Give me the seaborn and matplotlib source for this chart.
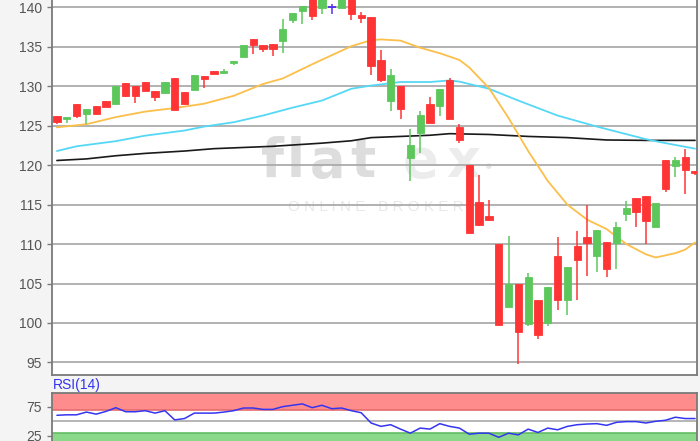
import numpy as np
import matplotlib
matplotlib.use("Agg")
import matplotlib.pyplot as plt
import seaborn as sns

# daily candles
opens = [126.3, 125.9, 127.8, 126.5, 127.45, 128.1, 127.8, 130.4, 130.0, 130.6,
         129.4, 129.2, 131.05, 129.3, 129.5, 131.35, 132.0, 131.7, 133.0, 133.7,
         136.0, 135.3, 135.4, 135.75, 138.4, 139.6, 141.6, 139.9, 140.0, 139.9,
         141.6, 139.0, 138.8, 133.4, 128.2, 130.0, 120.95, 124.1, 127.7, 127.45,
         130.85, 124.8, 120.0, 115.3, 113.6, 109.95, 102.0, 105.0, 99.9, 102.9,
         100.0, 108.5, 102.9, 109.7, 110.9, 108.5, 110.3, 110.2, 113.85, 115.9,
         116.1, 112.2, 120.6, 119.9, 121.1, 119.25]
closes = [125.5, 126.1, 126.2, 127.1, 126.5, 127.4, 130.0, 128.75, 128.75, 129.4,
          128.65, 130.55, 127.05, 127.7, 131.5, 130.9, 131.6, 131.9, 133.2, 135.2,
          135.2, 134.7, 134.75, 137.3, 139.3, 140.2, 138.9, 141.6, 140.0, 141.6,
          139.2, 138.7, 132.55, 130.85, 131.4, 127.15, 122.6, 126.4, 125.4, 129.7,
          125.9, 123.2, 111.4, 112.45, 113.0, 99.8, 105.0, 98.8, 105.85, 98.45,
          104.5, 102.9, 107.05, 108.0, 110.2, 111.8, 106.9, 112.15, 114.6, 114.05,
          112.9, 115.25, 117.0, 120.6, 119.4, 119.0]
highs = [126.3, 126.1, 127.8, 127.1, 127.45, 128.1, 130.0, 130.4, 130.0, 130.6,
         129.4, 130.55, 131.05, 129.3, 131.5, 131.35, 132.0, 132.2, 133.2, 135.2,
         136.0, 135.3, 135.4, 138.6, 139.3, 140.2, 141.6, 141.6, 140.4, 141.6,
         141.6, 139.45, 138.8, 134.65, 132.25, 130.0, 124.6, 126.85, 128.7, 129.7,
         131.0, 125.25, 120.0, 118.7, 115.6, 109.95, 111.0, 105.0, 106.3, 102.9,
         104.5, 110.9, 107.05, 111.6, 115.0, 111.8, 110.3, 112.75, 115.5, 115.9,
         116.1, 115.25, 120.6, 121.0, 122.1, 119.25]
lows = [125.2, 125.3, 126.0, 125.25, 126.5, 127.4, 127.7, 128.6, 127.9, 129.4,
        128.1, 129.2, 127.05, 127.7, 129.5, 129.8, 131.6, 131.7, 132.7, 133.7,
        134.1, 134.3, 133.9, 134.2, 138.05, 137.9, 138.4, 139.15, 139.2, 139.9,
        138.4, 138.05, 131.4, 130.55, 126.85, 125.9, 118.05, 121.5, 125.4, 126.3,
        125.9, 122.8, 111.4, 112.3, 112.9, 99.8, 102.0, 94.8, 99.6, 98.0,
        99.6, 101.7, 101.0, 102.9, 105.9, 106.4, 105.8, 106.9, 112.9, 112.15,
        110.0, 112.2, 116.6, 118.5, 116.3, 118.75]

# moving averages (candle index, value)
ma_fast_x = [0, 3, 6, 9, 12, 15, 18, 21, 23, 26, 30, 32, 33, 35, 37, 39, 41, 42,
             44, 46, 48, 50, 52, 54, 56, 58, 60, 61, 63, 64, 65]
ma_fast = [124.8, 125.2, 126.1, 126.8, 127.25, 127.8, 128.8, 130.3, 131.0, 132.8,
           135.1, 135.85, 135.95, 135.8, 134.9, 134.2, 133.35, 132.4, 129.8, 126.0,
           121.8, 118.0, 115.0, 113.1, 111.9, 110.0, 108.7, 108.3, 108.85, 109.3, 110.2]
ma_mid_x = [0, 2, 6, 9, 13, 15, 18, 21, 24, 27, 30, 32, 35, 38, 40, 41, 44, 47,
            51, 55, 60, 62, 65]
ma_mid = [121.8, 122.4, 123.05, 123.75, 124.4, 124.9, 125.45, 126.3, 127.3, 128.2,
          129.7, 130.1, 130.55, 130.55, 130.75, 130.6, 129.7, 128.2, 126.3, 124.9,
          123.3, 122.8, 122.1]
ma_slow_x = [0, 3, 6, 9, 13, 16, 20, 22, 27, 30, 32, 35, 38, 40, 44, 48, 52, 56, 60, 65]
ma_slow = [120.6, 120.8, 121.2, 121.5, 121.8, 122.1, 122.3, 122.4, 122.8, 123.1,
           123.5, 123.65, 123.8, 124.0, 123.9, 123.65, 123.5, 123.2, 123.15, 123.15]

rsi = [60.5, 61.3, 61.3, 66.1, 62.5, 67.3, 73.8, 66.7, 66.7, 68.5,
       64.3, 68.5, 52.4, 54.8, 64.3, 64.3, 64.3, 66.1, 68.5, 73.2,
       73.2, 70.8, 70.8, 75.6, 78.0, 80.4, 73.8, 78.0, 72.0, 73.2,
       68.5, 64.9, 47.0, 41.1, 44.0, 36.3, 29.2, 38.1, 36.3, 45.8,
       41.1, 38.1, 27.4, 29.2, 29.2, 22.0, 29.2, 26.2, 36.3, 30.4,
       38.1, 35.1, 41.1, 44.0, 45.2, 45.8, 42.9, 48.2, 49.4, 49.4,
       47.0, 50.0, 51.8, 57.1, 54.8, 54.8]

price_ticks = [95, 100, 105, 110, 115, 120, 125, 130, 135, 140]
rsi_ticks = [25, 75]

sns.set_style("white")
plt.rcParams['font.family'] = ['Liberation Sans', 'DejaVu Sans']

UP, DOWN, FLAT = '#5cc85c', '#ff3535', '#5533ee'
SPINE = '#7a7a7a'

fig = plt.figure(figsize=(7, 4.41), dpi=100, facecolor='#f4f4f4')
ax = fig.add_axes([52 / 700, 1 - 375 / 441, 645 / 700, 375 / 441])
ax_rsi = fig.add_axes([52 / 700, 0, 645 / 700, 48.3 / 441])

# --- price panel ---
x = np.arange(len(opens))
o = np.array(opens)
c = np.array(closes)
colors = [UP if cc > oo else (DOWN if cc < oo else FLAT) for oo, cc in zip(o, c)]

ax.vlines(x, lows, highs, colors=colors, lw=1.1, zorder=3)
ax.bar(x, c - o, bottom=o, width=0.74, color=colors, edgecolor=colors,
       linewidth=0.6, zorder=4)
# doji drawn as a small cross bar
for xi, oo, cc in zip(x, o, c):
    if oo == cc:
        ax.hlines(oo, xi - 0.4, xi + 0.4, color=FLAT, lw=1.3, zorder=4)

sns.lineplot(x=ma_slow_x, y=ma_slow, ax=ax, color='#1a1a1a', lw=1.2, zorder=2)
sns.lineplot(x=ma_mid_x, y=ma_mid, ax=ax, color='#55d8f5', lw=1.3, zorder=2)
sns.lineplot(x=ma_fast_x, y=ma_fast, ax=ax, color='#fbbf4a', lw=1.3, zorder=2)

ax.set_xlim(-0.5, 65.2)
ax.set_ylim(93.4, 140.95)
ax.set_yticks(price_ticks)
ax.set_xticks([])
ax.set_xlabel('')
ax.set_ylabel('')
ax.set_axisbelow(True)
ax.yaxis.grid(True, color='#ababab', lw=1.3)
ax.tick_params(axis='y', left=True, length=3.6, width=1, color=SPINE,
               labelcolor='#555555', labelsize=10, pad=3.5)
for side in ['left', 'bottom', 'right']:
    ax.spines[side].set_color(SPINE)
    ax.spines[side].set_linewidth(1.3)
ax.spines['top'].set_visible(False)

# watermark
wm = [('f', 272, '#dddddd'), ('l', 296, '#dddddd'), ('a', 327, '#dddddd'),
      ('t', 363, '#dddddd'), ('e', 421, '#ececec'), ('x', 463, '#ececec')]
for ch, px, col in wm:
    ax.text((px - 52) / 645, 1 - 162 / 375, ch, transform=ax.transAxes,
            ha='center', va='center', fontsize=38, fontweight='bold',
            color=col, family='DejaVu Sans', zorder=0.2)
ax.text((489 - 52) / 645, 1 - 167 / 375, '\u25cf', transform=ax.transAxes,
        ha='center', va='center', fontsize=9, color='#e6e6e6', zorder=0.2)
ax.text((288 - 52) / 645, 1 - 207 / 375, 'O N L I N E   B R O K E R',
        transform=ax.transAxes, ha='left', va='center', fontsize=11,
        color='#e8e8e8', zorder=0.2)

# --- RSI panel ---
ax_rsi.set_facecolor('white')
ax_rsi.axhspan(70, 100, color='#ff8c8c', lw=0, zorder=0)
ax_rsi.axhspan(0, 30, color='#8ad88a', lw=0, zorder=0)
ax_rsi.axhline(70, color='#e46c6c', lw=1.2, zorder=1)
ax_rsi.axhline(30, color='#62bd62', lw=1.2, zorder=1)
ax_rsi.axhline(50, color='#b0b0b0', lw=1.3, zorder=1)
sns.lineplot(x=x, y=rsi, ax=ax_rsi, color='#3535f0', lw=1.1, zorder=3)
ax_rsi.set_xlim(-0.5, 65.2)
ax_rsi.set_ylim(15.5, 100)
ax_rsi.set_yticks(rsi_ticks)
ax_rsi.set_xticks([])
ax_rsi.set_xlabel('')
ax_rsi.set_ylabel('')
ax_rsi.tick_params(axis='y', left=True, length=3.6, width=1, color=SPINE,
                   labelcolor='#555555', labelsize=10, pad=3.5)
for side in ['left', 'top', 'right']:
    ax_rsi.spines[side].set_color(SPINE)
    ax_rsi.spines[side].set_linewidth(1.3)
ax_rsi.spines['bottom'].set_visible(False)

fig.text(53 / 700, 1 - 385.5 / 441, 'RSI(14)', color='#3333ee', fontsize=10,
         ha='left', va='center')

fig.savefig('out.png', dpi=100, facecolor=fig.get_facecolor())
